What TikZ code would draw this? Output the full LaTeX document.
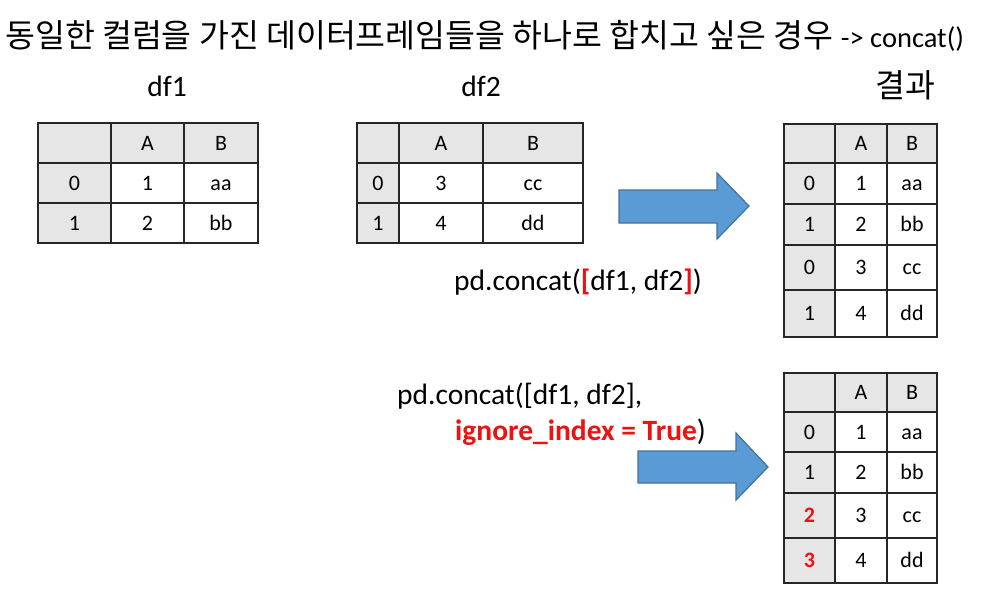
\documentclass[tikz,border=0pt]{standalone}
\usepackage{fontspec}
\setmainfont{Carlito}
\newfontfamily\krfont{Noto Sans CJK KR}
\definecolor{hdgray}{HTML}{E7E6E6}
\definecolor{arrowblue}{HTML}{5B9BD5}
\definecolor{arrowline}{HTML}{41719C}
\definecolor{codered}{HTML}{EE1111}
\tikzset{
  cell/.style={draw=black!85, line width=1.4pt, inner sep=0pt, text height=14pt, text depth=0pt, font=\fontsize{22}{22}\selectfont},
  bigarrow/.style={fill=arrowblue, draw=arrowline, line width=1.2pt, line join=miter},
  txt/.style={inner sep=0pt, font=\fontsize{29.5}{30}\selectfont},
}
\begin{document}
\begin{tikzpicture}[x=1pt,y=-1pt]
\useasboundingbox (0,0) rectangle (985,602);

\node[txt, anchor=base west] (title) at (5,48) {\krfont\fontsize{32.5}{33}\selectfont 동일한 컬럼을 가진 데이터프레임들을 하나로 합치고 싶은 경우 {\rmfamily\fontsize{28.5}{29}\selectfont -> concat()}};

\node[txt, anchor=base] (name1) at (167,96) {df1};
\node[txt, anchor=base] (name2) at (481,96) {df2};
\node[txt, anchor=base] (result) at (905,97) {\krfont\fontsize{32.5}{33}\selectfont 결과};

% df1
\foreach \y/\c/\ta/\tb/\tc [count=\i] in {143/hdgray/{}/A/B, 183/white/0/1/aa, 223/white/1/2/bb} {
  \node[cell, fill=hdgray, minimum width=73, minimum height=40] (dfa-\i-1) at (74.5,\y) {\ta};
  \node[cell, fill=\c, minimum width=73, minimum height=40] (dfa-\i-2) at (147.5,\y) {\tb};
  \node[cell, fill=\c, minimum width=74, minimum height=40] (dfa-\i-3) at (221,\y) {\tc};
}

% df2
\foreach \y/\c/\ta/\tb/\tc [count=\i] in {143/hdgray/{}/A/B, 183/white/0/3/cc, 223/white/1/4/dd} {
  \node[cell, fill=hdgray, minimum width=42, minimum height=40] (dfb-\i-1) at (378,\y) {\ta};
  \node[cell, fill=\c, minimum width=84, minimum height=40] (dfb-\i-2) at (441,\y) {\tb};
  \node[cell, fill=\c, minimum width=100, minimum height=40] (dfb-\i-3) at (533,\y) {\tc};
}

% concat result
\foreach \y/\h/\c/\ta/\tb/\tc [count=\i] in {143.5/39/hdgray/{}/A/B, 183.5/41/white/0/1/aa, 224.5/41/white/1/2/bb, 267.5/45/white/0/3/cc, 313.5/47/white/1/4/dd} {
  \node[cell, fill=hdgray, minimum width=51, minimum height=\h] (resa-\i-1) at (809.5,\y) {\ta};
  \node[cell, fill=\c, minimum width=52, minimum height=\h] (resa-\i-2) at (861,\y) {\tb};
  \node[cell, fill=\c, minimum width=50, minimum height=\h] (resa-\i-3) at (912,\y) {\tc};
}

% ignore_index result
\foreach \y/\h/\c/\ta/\tb/\tc [count=\i] in {392.5/39/hdgray/{}/A/B, 432/40/white/0/1/aa, 472.5/41/white/1/2/bb, 515.5/45/white/{\textbf{\color{codered}2}}/3/cc, 560.5/45/white/{\textbf{\color{codered}3}}/4/dd} {
  \node[cell, fill=hdgray, minimum width=51, minimum height=\h] (resb-\i-1) at (809.5,\y) {\ta};
  \node[cell, fill=\c, minimum width=52, minimum height=\h] (resb-\i-2) at (861,\y) {\tb};
  \node[cell, fill=\c, minimum width=50, minimum height=\h] (resb-\i-3) at (912,\y) {\tc};
}

\node[txt, anchor=base west] (code1) at (454,290) {pd.concat(\textcolor{codered}{\textbf{[}}df1, df2\textcolor{codered}{\textbf{]}})};
\node[txt, anchor=base west] (code2) at (397,404) {pd.concat([df1, df2],};
\node[txt, anchor=base west] (code3) at (455,440) {\textcolor{codered}{\textbf{ignore\_index = True}})};

% arrows
\draw[bigarrow] (619,190) -- (717,190) -- (717,173) -- (749,206) -- (717,239) -- (717,223) -- (619,223) -- cycle;
\draw[bigarrow] (638,451) -- (736,451) -- (736,433) -- (768,467) -- (736,500) -- (736,483) -- (638,483) -- cycle;
\end{tikzpicture}
\end{document}
